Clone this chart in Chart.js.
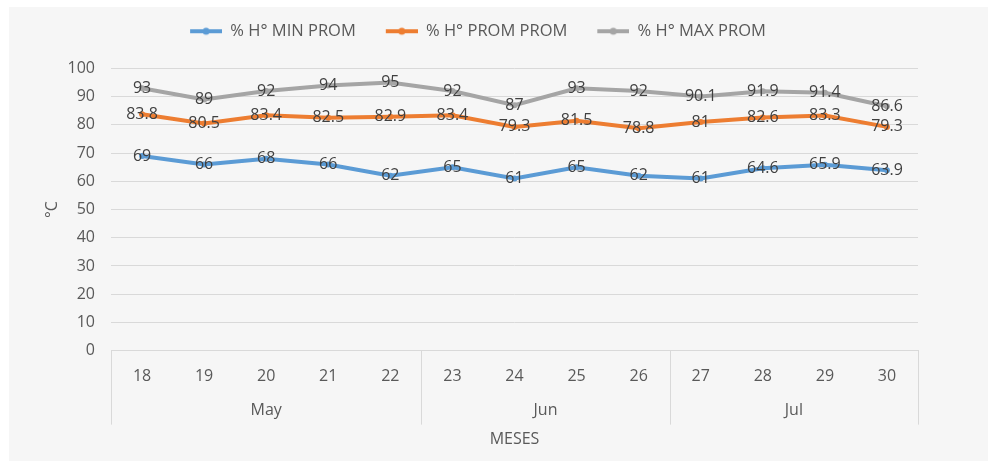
<!DOCTYPE html>
<html>
<head>
<meta charset="utf-8">
<script src="https://cdn.jsdelivr.net/npm/chart.js@4.4.1/dist/chart.umd.min.js"></script>
<style>
  html, body { margin: 0; padding: 0; background: #ffffff; }
  #wrap { position: relative; width: 988px; height: 468px; }
  canvas { display: block; }
</style>
</head>
<body>
<div id="wrap"><canvas id="c" width="988" height="468"></canvas></div>
<script>
// ---- Data ----
const days = ['18', '19', '20', '21', '22', '23', '24', '25', '26', '27', '28', '29', '30'];
const months = ['May', 'Jun', 'Jul'];
const monthSpans = [5, 4, 4];
const seriesNames = ['% H° MIN PROM', '% H° PROM PROM', '% H° MAX PROM'];
const minProm = [69, 66, 68, 66, 62, 65, 61, 65, 62, 61, 64.6, 65.9, 63.9];
const promProm = [83.8, 80.5, 83.4, 82.5, 82.9, 83.4, 79.3, 81.5, 78.8, 81, 82.6, 83.3, 79.3];
const maxProm = [93, 89, 92, 94, 95, 92, 87, 93, 92, 90.1, 91.9, 91.4, 86.6];
const yTicks = [0, 10, 20, 30, 40, 50, 60, 70, 80, 90, 100];
const yTitle = '°C';
const xTitle = 'MESES';

// ---- Styles ----
const colors = ['#5b9bd5', '#ed7d31', '#a5a5a5'];
const FONT = "'Open Sans', 'Liberation Sans', sans-serif";
const textColor = '#595959';
const gridColor = '#d9d9d9';

function legendIcon(color) {
  const c = document.createElement('canvas');
  c.width = 52; c.height = 12;
  const g = c.getContext('2d');
  g.strokeStyle = color; g.lineWidth = 4; g.lineCap = 'butt';
  g.beginPath(); g.moveTo(20, 6); g.lineTo(52, 6); g.stroke();
  g.fillStyle = color;
  g.beginPath(); g.arc(36, 6, 3.5, 0, Math.PI * 2); g.fill();
  return c;
}
const icons = colors.map(legendIcon);

const bgPlugin = {
  id: 'bg',
  beforeDraw(chart) {
    const ctx = chart.ctx;
    ctx.save();
    ctx.fillStyle = '#f6f6f6';
    ctx.fillRect(9, 7, chart.width - 9, 454);
    ctx.restore();
  }
};

const groupPlugin = {
  id: 'groups',
  afterDraw(chart) {
    const ctx = chart.ctx;
    const xs = chart.scales.x;
    const area = chart.chartArea;
    const step = xs.getPixelForValue(1) - xs.getPixelForValue(0);
    ctx.save();
    ctx.strokeStyle = gridColor;
    ctx.lineWidth = 1;
    ctx.fillStyle = textColor;
    ctx.font = '16px ' + FONT;
    ctx.textAlign = 'center';
    ctx.textBaseline = 'middle';
    let idx = 0;
    const bounds = [];
    monthSpans.forEach((span, i) => {
      const left = xs.getPixelForValue(idx) - step / 2;
      const right = xs.getPixelForValue(idx + span - 1) + step / 2;
      bounds.push(left);
      if (i === monthSpans.length - 1) bounds.push(right);
      ctx.fillText(months[i], (left + right) / 2, area.bottom + 60);
      idx += span;
    });
    bounds.forEach(b => {
      const x = Math.round(b) + 0.5;
      ctx.beginPath();
      ctx.moveTo(x, area.bottom);
      ctx.lineTo(x, area.bottom + 74);
      ctx.stroke();
    });
    ctx.restore();
  }
};

const labelPlugin = {
  id: 'dlabels',
  afterDatasetsDraw(chart) {
    const ctx = chart.ctx;
    ctx.save();
    ctx.fillStyle = '#404040';
    ctx.font = '16px ' + FONT;
    ctx.textAlign = 'center';
    ctx.textBaseline = 'middle';
    chart.data.datasets.forEach((ds, di) => {
      const meta = chart.getDatasetMeta(di);
      meta.data.forEach((pt, i) => {
        ctx.fillText(String(ds.data[i]), pt.x, pt.y);
      });
    });
    ctx.restore();
  }
};

const seriesData = [minProm, promProm, maxProm];

new Chart(document.getElementById('c'), {
  type: 'line',
  data: {
    labels: days,
    datasets: seriesData.map((d, i) => ({
      label: seriesNames[i],
      data: d,
      borderColor: colors[i],
      backgroundColor: colors[i],
      borderWidth: 4,
      pointRadius: 3,
      pointBorderWidth: 0,
      pointBackgroundColor: colors[i],
      tension: 0,
      fill: false
    }))
  },
  options: {
    responsive: false,
    animation: false,
    devicePixelRatio: 1,
    layout: { padding: { top: 13, left: 18, right: 70, bottom: 15 } },
    plugins: {
      legend: {
        position: 'top',
        weight: 3000,
        labels: {
          usePointStyle: true,
          pointStyleWidth: 52,
          padding: 10,
          color: textColor,
          font: { family: FONT, size: 16.5 },
          generateLabels(chart) {
            return chart.data.datasets.map((ds, i) => ({
              text: ds.label,
              pointStyle: icons[i],
              fillStyle: colors[i],
              strokeStyle: colors[i],
              lineWidth: 0,
              datasetIndex: i,
              fontColor: textColor
            }));
          }
        }
      },
      title: {
        display: true,
        text: ' ',
        position: 'top',
        weight: 100,
        font: { size: 10, lineHeight: 1 },
        padding: { top: 0, bottom: 9 }
      },
      tooltip: { enabled: false }
    },
    scales: {
      x: {
        offset: true,
        grid: { display: false, drawTicks: false, offset: true },
        border: { display: true, color: gridColor },
        ticks: { color: textColor, font: { family: FONT, size: 16 }, padding: 16, maxRotation: 0 },
        title: { display: true, text: xTitle, color: textColor, font: { family: FONT, size: 16 }, padding: { top: 28, bottom: 4 } }
      },
      y: {
        min: 0, max: 100,
        afterBuildTicks(scale) { scale.ticks = yTicks.map(v => ({ value: v })); },
        grid: { color: gridColor, drawTicks: false },
        border: { display: false },
        ticks: { color: textColor, font: { family: FONT, size: 16 }, padding: 16 },
        title: { display: true, text: yTitle, color: textColor, font: { family: FONT, size: 16 }, padding: { top: 25, bottom: 0 } },
        afterFit(scale) { scale.width = 93; }
      }
    }
  },
  plugins: [bgPlugin, groupPlugin, labelPlugin]
});
</script>
</body>
</html>
